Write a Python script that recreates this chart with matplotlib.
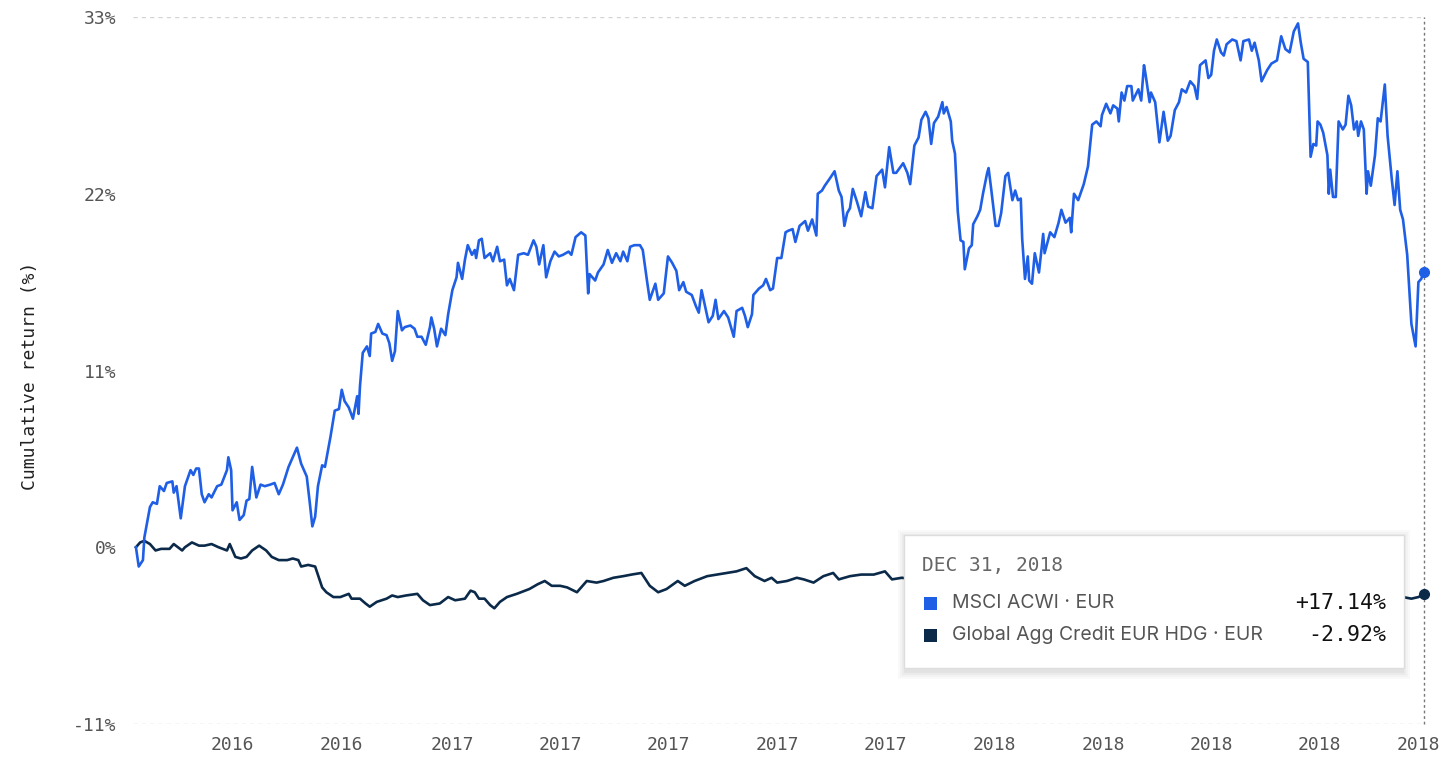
import matplotlib
matplotlib.use("Agg")
import matplotlib.pyplot as plt
from matplotlib.patches import Rectangle

# days since start of the series (end = Dec 31, 2018), cumulative return in %
msci_day = [0, 2, 5, 6, 10, 12, 15, 17, 20, 22, 26, 27, 29, 32, 35, 39, 41, 43, 45, 47,
            49, 52, 54, 58, 61, 65, 66, 68, 69, 72, 74, 77, 79, 81, 83, 86, 89, 92, 96, 99,
            102, 105, 109, 111, 115, 118, 122, 124, 126, 128, 130, 133, 135, 139, 142, 145, 147, 149, 152, 155,
            158, 159, 160, 162, 165, 167, 168, 171, 173, 176, 179, 181, 183, 185, 187, 190, 192, 196, 199, 201,
            204, 207, 210, 211, 213, 215, 218, 221, 223, 226, 229, 230, 233, 235, 237, 240, 242, 243, 245, 247,
            249, 253, 255, 258, 260, 263, 265, 267, 270, 273, 277, 280, 284, 286, 288, 291, 293, 296, 299, 302,
            305, 309, 311, 314, 318, 321, 323, 324, 328, 330, 334, 337, 340, 343, 346, 348, 351, 353, 356, 360,
            362, 365, 367, 371, 373, 377, 380, 383, 386, 388, 391, 393, 397, 400, 402, 404, 406, 409, 412, 414,
            416, 420, 423, 427, 429, 433, 435, 437, 440, 441, 445, 448, 450, 453, 455, 458, 461, 464, 466, 469,
            471, 474, 478, 480, 483, 486, 487, 490, 492, 496, 499, 502, 504, 506, 508, 510, 512, 515, 518, 521,
            523, 526, 529, 533, 535, 538, 541, 543, 548, 551, 553, 556, 559, 561, 564, 566, 568, 570, 573, 576,
            577, 579, 582, 583, 585, 587, 589, 591, 592, 595, 597, 598, 601, 603, 605, 608, 609, 611, 614, 616,
            618, 621, 623, 626, 628, 630, 632, 633, 635, 637, 638, 640, 642, 645, 648, 649, 653, 656, 659, 661,
            664, 667, 668, 670, 673, 677, 680, 683, 686, 689, 690, 693, 696, 698, 701, 702, 704, 706, 708, 711,
            712, 716, 718, 720, 721, 724, 725, 728, 730, 731, 734, 737, 739, 742, 745, 747, 750, 753, 756, 758,
            760, 764, 766, 768, 770, 772, 775, 777, 779, 783, 786, 789, 791, 795, 797, 799, 802, 804, 808, 811,
            815, 818, 821, 824, 827, 830, 832, 834, 837, 839, 841, 843, 844, 846, 848, 851, 852, 853, 855, 857,
            859, 862, 864, 866, 868, 870, 872, 873, 875, 877, 879, 880, 882, 885, 887, 889, 892, 894, 897, 899,
            901, 903, 905, 908, 911, 914, 916, 918, 920]
msci_ret = [0.0, -1.2, -0.8, 0.6, 2.5, 2.8, 2.7, 3.8, 3.5, 4.0, 4.1, 3.4, 3.8, 1.8, 3.8, 4.8, 4.5, 4.9, 4.9, 3.3,
            2.8, 3.3, 3.1, 3.8, 3.9, 4.8, 5.6, 4.8, 2.3, 2.8, 1.7, 2.0, 2.9, 3.0, 5.0, 3.1, 3.9, 3.8, 3.9, 4.0,
            3.3, 3.9, 5.0, 5.4, 6.2, 5.2, 4.4, 2.9, 1.3, 1.9, 3.8, 5.1, 5.0, 6.9, 8.5, 8.6, 9.8, 9.1, 8.7, 8.0,
            9.4, 8.3, 10.0, 12.1, 12.5, 11.9, 13.3, 13.4, 13.9, 13.3, 13.2, 12.7, 11.6, 12.2, 14.7, 13.5, 13.7, 13.8, 13.6, 13.1,
            13.1, 12.6, 13.7, 14.3, 13.6, 12.5, 13.6, 13.2, 14.5, 16.0, 16.8, 17.7, 16.7, 17.9, 18.8, 18.2, 18.5, 18.0, 19.1, 19.2,
            18.0, 18.3, 17.8, 18.7, 17.8, 17.9, 16.3, 16.7, 16.0, 18.2, 18.3, 18.2, 19.1, 18.7, 17.6, 18.8, 16.8, 17.8, 18.4, 18.1,
            18.2, 18.4, 18.2, 19.3, 19.6, 19.4, 15.8, 17.0, 16.6, 17.1, 17.6, 18.5, 17.7, 18.3, 17.8, 18.4, 17.8, 18.7, 18.8, 18.8,
            18.5, 16.6, 15.4, 16.4, 15.4, 15.8, 18.1, 17.7, 17.2, 16.0, 16.5, 15.9, 15.7, 15.0, 14.6, 16.0, 15.2, 14.0, 14.4, 15.4,
            14.2, 14.7, 14.3, 13.1, 14.7, 14.9, 14.4, 13.7, 14.5, 15.7, 16.1, 16.3, 16.7, 16.0, 16.1, 18.0, 18.0, 19.6, 19.7, 19.8,
            19.0, 20.0, 20.3, 19.7, 20.4, 19.4, 22.0, 22.2, 22.5, 23.0, 23.4, 22.2, 21.8, 20.0, 20.8, 21.1, 22.3, 21.5, 20.6, 22.1,
            21.2, 21.1, 23.1, 23.5, 22.4, 24.9, 23.3, 23.3, 23.9, 23.3, 22.6, 25.0, 25.5, 26.6, 27.1, 26.7, 25.1, 26.4, 26.8, 27.7,
            27.0, 27.4, 26.5, 25.3, 24.5, 20.9, 19.1, 19.0, 17.3, 18.6, 18.8, 20.1, 20.6, 21.0, 22.0, 23.3, 23.6, 22.2, 20.0, 20.0,
            20.8, 23.1, 23.3, 21.6, 22.2, 21.6, 21.7, 19.2, 16.7, 18.1, 16.6, 16.4, 18.3, 17.1, 19.5, 18.3, 19.6, 19.3, 20.2, 21.0,
            20.2, 20.5, 19.6, 22.0, 21.6, 22.6, 23.7, 26.3, 26.5, 26.2, 26.9, 27.6, 27.0, 27.5, 27.3, 26.5, 28.3, 27.8, 28.7, 28.7,
            27.8, 28.5, 27.8, 30.0, 29.5, 27.7, 28.3, 27.7, 26.0, 25.2, 27.1, 25.3, 25.6, 27.2, 27.7, 28.5, 28.3, 29.0, 28.7, 27.9,
            30.0, 30.3, 29.2, 29.4, 30.9, 31.6, 30.8, 30.6, 31.3, 31.6, 31.5, 30.3, 31.5, 31.6, 30.9, 31.4, 30.3, 29.0, 29.7, 30.1,
            30.3, 31.8, 31.0, 30.8, 32.1, 32.6, 31.4, 30.4, 30.2, 24.3, 25.1, 25.0, 26.5, 26.3, 25.8, 24.4, 22.0, 23.5, 21.8, 21.8,
            26.5, 26.0, 26.3, 28.1, 27.5, 26.0, 26.5, 25.6, 26.5, 26.0, 22.0, 23.4, 22.5, 24.4, 26.7, 26.5, 28.8, 25.6, 22.9, 21.3,
            23.4, 21.0, 20.4, 18.2, 13.9, 12.5, 16.5, 16.7, 17.14]

agg_day = [0, 3, 6, 10, 14, 18, 24, 27, 33, 35, 40, 45, 49, 54, 59, 65, 67, 71, 75, 79,
           83, 88, 93, 97, 102, 108, 112, 116, 118, 123, 128, 133, 136, 141, 146, 152, 154, 160, 164, 167,
           172, 179, 183, 187, 193, 201, 205, 210, 217, 223, 228, 235, 239, 242, 245, 249, 253, 256, 260, 265,
           272, 281, 287, 292, 297, 303, 308, 315, 322, 329, 334, 341, 348, 354, 361, 367, 373, 379, 387, 392,
           399, 408, 415, 422, 429, 436, 442, 449, 454, 458, 465, 472, 477, 484, 491, 498, 502, 510, 518, 527,
           535, 540, 547, 565, 590, 620, 650, 680, 710, 740, 770, 800, 830, 860, 890, 905, 911, 916, 918, 920]
agg_ret = [0.0, 0.3, 0.4, 0.2, -0.2, -0.1, -0.1, 0.2, -0.2, 0.0, 0.3, 0.1, 0.1, 0.2, 0.0, -0.2, 0.2, -0.6, -0.7, -0.6,
           -0.2, 0.1, -0.2, -0.6, -0.8, -0.8, -0.7, -0.8, -1.2, -1.1, -1.2, -2.5, -2.8, -3.1, -3.1, -2.9, -3.2, -3.2, -3.5, -3.7,
           -3.4, -3.2, -3.0, -3.1, -3.0, -2.9, -3.3, -3.6, -3.5, -3.1, -3.3, -3.2, -2.7, -2.8, -3.2, -3.2, -3.6, -3.8, -3.4, -3.1,
           -2.9, -2.6, -2.3, -2.1, -2.4, -2.4, -2.5, -2.8, -2.1, -2.2, -2.1, -1.9, -1.8, -1.7, -1.6, -2.4, -2.8, -2.6, -2.1, -2.4,
           -2.1, -1.8, -1.7, -1.6, -1.5, -1.3, -1.8, -2.1, -1.9, -2.2, -2.1, -1.9, -2.0, -2.2, -1.8, -1.6, -2.0, -1.8, -1.7, -1.7,
           -1.5, -2.0, -1.9, -2.1, -2.3, -2.2, -2.5, -2.3, -2.6, -2.5, -2.7, -2.6, -2.9, -2.8, -3.0, -3.1, -3.2, -3.1, -3.0, -2.92]

tick_days = [69, 147, 226, 303, 380, 458, 535, 613, 691, 768, 845, 916]
tick_labels = ['2016', '2016', '2017', '2017', '2017', '2017', '2017', '2018', '2018', '2018', '2018', '2018']
y_ticks = [-11, 0, 11, 22, 33]

series_names = ['MSCI ACWI · EUR', 'Global Agg Credit EUR HDG · EUR']
series_last = ['+17.14%', '-2.92%']
tooltip_date = 'DEC 31, 2018'

BLUE = '#1f5fe6'
NAVY = '#0b2a4a'
W, H = 1456, 767


def fx(x):
    return x / W


def fy(y):
    return 1 - y / H


fig = plt.figure(figsize=(W / 100, H / 100), dpi=100)
ax = fig.add_axes([fx(133), fy(724), fx(1424) - fx(133), fy(17) - fy(724)])

ax.plot(agg_day, agg_ret, color=NAVY, lw=1.9, zorder=3, solid_joinstyle='round')
ax.plot(msci_day, msci_ret, color=BLUE, lw=1.9, zorder=4, solid_joinstyle='round')
ax.plot(msci_day[-1], msci_ret[-1], 'o', color=BLUE, ms=7, zorder=6, clip_on=False)
ax.plot(agg_day[-1], agg_ret[-1], 'o', color=NAVY, ms=7, zorder=6, clip_on=False)

ax.set_xlim(-2.1, 920)
ax.set_ylim(-11, 33)

for yv in (33, -11):
    ax.axhline(yv, color='#d4d4d4', lw=1, ls=(0, (3, 3)), zorder=1)
ax.axvline(920, color='#777777', lw=1, ls=(0, (2, 2)), zorder=2, clip_on=False)

ax.set_xticks(tick_days)
ax.set_xticklabels(tick_labels)
ax.set_yticks(y_ticks)
ax.set_yticklabels([f'{v}%' for v in y_ticks])
ax.tick_params(length=0, labelsize=13, labelcolor='#555555')
ax.tick_params(axis='x', pad=9)
ax.tick_params(axis='y', pad=12)
for lab in ax.get_xticklabels() + ax.get_yticklabels():
    lab.set_family('DejaVu Sans Mono')
for s in ax.spines.values():
    s.set_visible(False)

fig.text(fx(30), fy(376), 'Cumulative return (%)', rotation=90, ha='center', va='center',
         family='DejaVu Sans Mono', fontsize=13, color='#222222')

# tooltip box with soft shadow
bx0, by0, bx1, by1 = 904, 535, 1404, 668
for i, a in enumerate([0.025, 0.025, 0.03, 0.035]):
    g = 8 - 2 * i
    fig.patches.append(Rectangle((fx(bx0 - g + 2), fy(by1 + g + 3)), fx(bx1 - bx0 + 2 * g - 4), fy(0) - fy(by1 - by0 + 2 * g),
                                 transform=fig.transFigure, facecolor='black', edgecolor='none', alpha=a, zorder=5))
fig.patches.append(Rectangle((fx(bx0), fy(by1)), fx(bx1 - bx0), fy(0) - fy(by1 - by0),
                             transform=fig.transFigure, facecolor='white', edgecolor='#dddddd', lw=1, zorder=6))

fig.text(fx(922), fy(565), tooltip_date, ha='left', va='center', family='DejaVu Sans Mono',
         fontsize=14, color='#666666', zorder=7)
for i, (name, val, col) in enumerate(zip(series_names, series_last, [BLUE, NAVY])):
    yc = 603 + 32 * i
    fig.patches.append(Rectangle((fx(924), fy(yc + 6.5)), fx(13), fy(0) - fy(13),
                                 transform=fig.transFigure, facecolor=col, edgecolor='none', zorder=7))
    fig.text(fx(952), fy(yc), name, ha='left', va='center', family='Inter', fontsize=14,
             color='#555555', zorder=7)
    fig.text(fx(1386), fy(yc), val, ha='right', va='center', family='DejaVu Sans Mono',
             fontsize=15.5, color='#111111', zorder=7)

fig.savefig('out.png', dpi=100, facecolor='white')
